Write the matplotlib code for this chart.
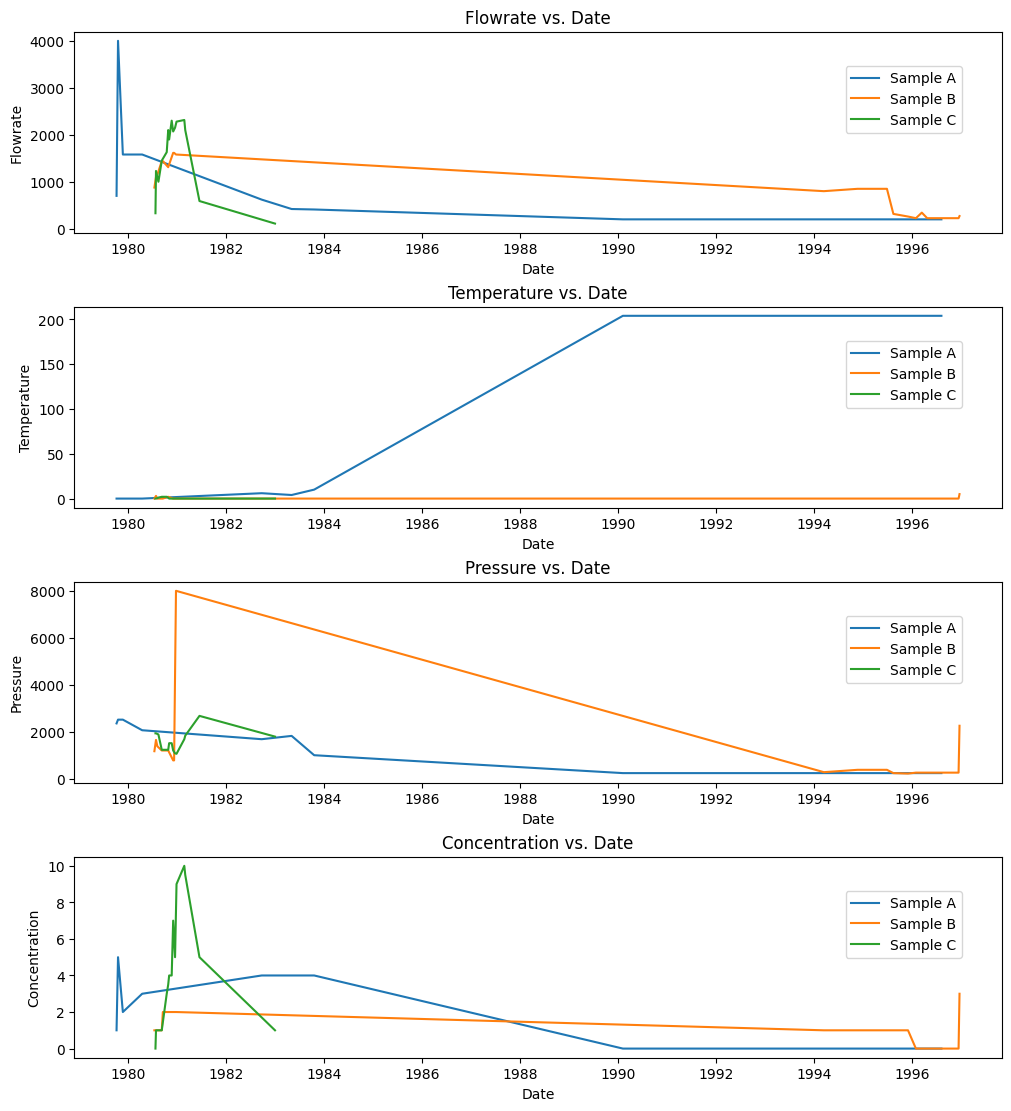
import pandas as pd
import matplotlib
matplotlib.use('Agg')
import matplotlib.pyplot as plt

# Sample A
a_dates = ['1979-10-08', '1979-10-19', '1979-11-24', '1980-04-16', '1982-09-24',
           '1983-05-05', '1983-10-20', '1990-02-06', '1996-08-07']
a_flow = [700, 4000, 1580, 1580, 620, 420, 410, 200, 200]
a_temp = [0, 0, 0, 0, 6, 4, 10, 204, 204]
a_press = [2370, 2530, 2530, 2080, 1700, 1840, 1020, 260, 260]
a_conc = [1, 5, 2, 3, 4, 4, 4, 0, 0]

# Sample B
b_dates = ['1980-07-16', '1980-07-28', '1980-08-07', '1980-09-09', '1980-09-17',
           '1980-10-27', '1980-12-03', '1980-12-10', '1980-12-24', '1994-03-15',
           '1994-11-21', '1995-06-28', '1995-08-15', '1995-12-02', '1996-01-30',
           '1996-03-14', '1996-04-23', '1996-12-13', '1996-12-20']
b_flow = [877, 1100, 1150, 1440, 1440, 1310, 1615, 1615, 1580, 800,
          850, 850, 316, 260, 225, 343, 225, 225, 270]
b_temp = [0, 3, 0, 0, 0, 2, 0, 0, 0, 0, 0, 0, 0, 0, 0, 0, 0, 0, 5]
b_press = [1190, 1670, 1400, 1220, 1220, 1220, 800, 800, 8000, 300,
           400, 400, 260, 240, 280, 280, 280, 280, 2270]
b_conc = [1, 1, 1, 1, 2, 2, 2, 2, 2, 1, 1, 1, 1, 1, 0, 0, 0, 0, 3]

# Sample C
c_dates = ['1980-07-24', '1980-07-28', '1980-08-15', '1980-09-09', '1980-10-16',
           '1980-10-27', '1980-11-03', '1980-11-22', '1980-12-03', '1980-12-17',
           '1980-12-28', '1981-02-24', '1981-03-03', '1981-06-17', '1983-01-01']
c_flow = [330, 1230, 1000, 1450, 1630, 2100, 1900, 2300, 2070, 2150,
          2280, 2315, 2100, 590, 110]
c_temp = [0, 0, 1, 2, 2, 1, 0, 0, 0, 0, 0, 0, 0, 0, 0]
c_press = [1950, 1950, 1900, 1250, 1250, 1250, 1530, 1530, 1220, 1100,
           1080, 1700, 1850, 2690, 1810]
c_conc = [0, 1, 1, 1, 3, 3.5, 4, 4, 7, 5, 9, 10, 9.5, 5, 1]

samples = ['Sample A', 'Sample B', 'Sample C']
params = ['Flowrate', 'Temperature', 'Pressure', 'Concentration']

data = {
    'Sample A': (a_dates, [a_flow, a_temp, a_press, a_conc]),
    'Sample B': (b_dates, [b_flow, b_temp, b_press, b_conc]),
    'Sample C': (c_dates, [c_flow, c_temp, c_press, c_conc]),
}

fig, axes = plt.subplots(4, 1, figsize=(10, 11), constrained_layout=True)

for i, (ax, p) in enumerate(zip(axes, params)):
    for s in samples:
        d, vals = data[s]
        ax.plot(pd.to_datetime(d), vals[i], label=s)
    ax.set_title(p + ' vs. Date')
    ax.set_xlabel('Date')
    ax.set_ylabel(p)
    ax.legend(loc='upper right', bbox_to_anchor=(0.957, 0.83), borderaxespad=0)

fig.savefig('out.png', dpi=100, bbox_inches='tight')
